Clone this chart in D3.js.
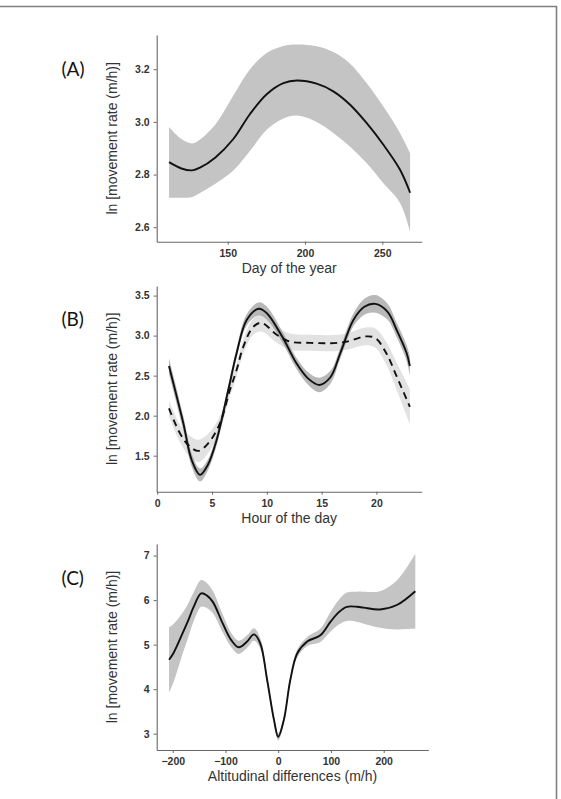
<!DOCTYPE html>
<html>
<head>
<meta charset="utf-8">
<script src="https://cdn.jsdelivr.net/npm/d3@7"></script>
<style>
  html, body { margin: 0; padding: 0; background: #fff; }
  svg { display: block; }
</style>
</head>
<body>
<svg id="chart" width="561" height="799"></svg>
<script>
// ---------- Panel A: day of the year ----------
const dayA   = [112, 120, 127, 132, 142, 153.6, 164.4, 175.2, 186, 194.7, 207.5, 218.3, 229, 239.8, 250.6, 261.4, 268];
const meanA  = [2.847, 2.823, 2.816, 2.826, 2.865, 2.935, 3.03, 3.105, 3.147, 3.157, 3.145, 3.116, 3.066, 2.996, 2.914, 2.819, 2.731];
const upperA = [2.981, 2.935, 2.918, 2.933, 2.99, 3.1, 3.2, 3.262, 3.288, 3.294, 3.287, 3.265, 3.222, 3.148, 3.059, 2.958, 2.882];
const lowerA = [2.712, 2.712, 2.715, 2.73, 2.765, 2.815, 2.89, 2.97, 3.013, 3.024, 3.0, 2.958, 2.907, 2.844, 2.768, 2.693, 2.583];
const xTicksA = [150, 200, 250];
const yTicksA = [2.6, 2.8, 3.0, 3.2];

// ---------- Panel B: hour of the day ----------
const hourSolidB = [1.07, 2.38, 3.14, 3.9, 4.6, 5.42, 6.48, 7.24, 8.16, 9.25, 10, 11.4, 12.7, 13.8, 14.78, 15.8, 16.7, 17.9, 18.9, 19.9, 21, 21.85, 22.76, 23.05];
const meanSolidB = [2.62, 1.905, 1.446, 1.26, 1.38, 1.696, 2.32, 2.78, 3.196, 3.335, 3.28, 2.988, 2.655, 2.46, 2.384, 2.48, 2.78, 3.196, 3.36, 3.396, 3.3, 3.07, 2.78, 2.62];
const seSolidB   = [0.1, 0.09, 0.08, 0.08, 0.07, 0.07, 0.06, 0.06, 0.07, 0.08, 0.08, 0.07, 0.07, 0.08, 0.09, 0.08, 0.07, 0.08, 0.1, 0.11, 0.1, 0.09, 0.1, 0.12];
const hourDashB  = [1.07, 2.07, 2.83, 3.74, 4.65, 5.72, 6.63, 7.24, 7.85, 8.76, 9.52, 10.9, 12.1, 14, 15.8, 17.3, 19.0, 19.9, 20.9, 21.85, 23.05];
const meanDashB  = [2.09, 1.78, 1.634, 1.56, 1.655, 1.905, 2.32, 2.57, 2.86, 3.11, 3.16, 3.01, 2.925, 2.91, 2.905, 2.925, 2.99, 2.97, 2.78, 2.49, 2.11];
const seDashB    = [0.1, 0.11, 0.13, 0.14, 0.12, 0.09, 0.08, 0.08, 0.09, 0.1, 0.11, 0.1, 0.1, 0.1, 0.1, 0.1, 0.11, 0.12, 0.14, 0.17, 0.22];
const xTicksB = [0, 5, 10, 15, 20];
const yTicksB = [1.5, 2.0, 2.5, 3.0, 3.5];

// ---------- Panel C: altitudinal differences ----------
const altC  = [-207, -199, -180, -170, -161, -146, -135, -124, -105, -89, -75, -59, -46, -34, -21, -8, 0, 10.7, 23, 36, 55, 80, 99, 115, 130, 150, 162, 193, 225, 260];
const meanC = [4.66, 4.8, 5.29, 5.56, 5.83, 6.15, 6.1, 5.96, 5.47, 5.1, 4.94, 5.07, 5.23, 5.03, 4.21, 3.31, 2.93, 3.31, 4.21, 4.8, 5.07, 5.21, 5.51, 5.73, 5.85, 5.85, 5.83, 5.79, 5.89, 6.2];
const seC   = [0.73, 0.66, 0.45, 0.38, 0.33, 0.3, 0.28, 0.25, 0.2, 0.16, 0.15, 0.14, 0.14, 0.12, 0.1, 0.08, 0.08, 0.08, 0.08, 0.09, 0.1, 0.15, 0.22, 0.28, 0.32, 0.34, 0.36, 0.41, 0.55, 0.84];
const xTicksC = [-200, -100, 0, 100, 200];
const yTicksC = [3, 4, 5, 6, 7];

const panelLabels = ["(A)", "(B)", "(C)"];
const xTitles = ["Day of the year", "Hour of the day", "Altitudinal differences (m/h)"];
const yTitle = "ln [movement rate (m/h)]";

const svg = d3.select("#chart");
svg.append("rect").attr("width", 561).attr("height", 799).attr("fill", "#fff");

// frame
svg.append("line").attr("x1", 0).attr("x2", 557).attr("y1", 6.5).attr("y2", 6.5)
  .attr("stroke", "#808080").attr("stroke-width", 1.6);
svg.append("line").attr("x1", 556.5).attr("x2", 556.5).attr("y1", 6).attr("y2", 799)
  .attr("stroke", "#808080").attr("stroke-width", 1.6);

const curve = d3.curveCatmullRom.alpha(0.5);

function drawAxes(x, y, xt, yt, xfmt, yfmt, label, xTitle, labelY) {
  const g = svg.append("g");
  const ax = g.append("g").attr("transform", `translate(0,${y.range()[0]})`)
    .call(d3.axisBottom(x).tickValues(xt).tickFormat(xfmt).tickSize(3).tickSizeOuter(0).tickPadding(5));
  const ay = g.append("g").attr("transform", `translate(${x.range()[0]},0)`)
    .call(d3.axisLeft(y).tickValues(yt).tickFormat(yfmt).tickSize(3).tickSizeOuter(0).tickPadding(4));
  [ax, ay].forEach(a => {
    a.select(".domain").attr("stroke", "#666").attr("stroke-width", 1.1);
    a.selectAll(".tick line").attr("stroke", "#666");
    a.selectAll("text").attr("font-family", "Liberation Sans, Arial, sans-serif")
      .attr("font-weight", "bold").attr("font-size", 10.5).attr("fill", "#333");
  });
  const [x0, x1] = x.range();
  const [y0, y1] = y.range();
  g.append("text").attr("x", (x0 + x1) / 2).attr("y", y0 + 31)
    .attr("text-anchor", "middle").attr("font-family", "Liberation Sans, Arial, sans-serif")
    .attr("font-size", 14).attr("fill", "#333").text(xTitle);
  g.append("text").attr("transform", `translate(${x0 - 40},${(y0 + y1) / 2}) rotate(-90)`)
    .attr("text-anchor", "middle").attr("font-family", "Liberation Sans, Arial, sans-serif")
    .attr("font-size", 14).attr("fill", "#333").text(yTitle);
  g.append("text").attr("x", 61.5).attr("y", labelY)
    .attr("font-family", "Lato, Open Sans, sans-serif").attr("font-size", 19).attr("fill", "#111")
    .text(label);
}

function band(x, y, xs, lo, hi, fill, opacity) {
  const pts = xs.map((d, i) => ({ x: d, lo: lo[i], hi: hi[i] }));
  svg.append("path").datum(pts)
    .attr("d", d3.area().curve(curve).x(d => x(d.x)).y0(d => y(d.lo)).y1(d => y(d.hi)))
    .attr("fill", fill).attr("fill-opacity", opacity);
}
function line(x, y, xs, ys, dash) {
  const pts = xs.map((d, i) => ({ x: d, y: ys[i] }));
  const p = svg.append("path").datum(pts)
    .attr("d", d3.line().curve(curve).x(d => x(d.x)).y(d => y(d.y)))
    .attr("fill", "none").attr("stroke", "#111").attr("stroke-width", 1.9);
  if (dash) p.attr("stroke-dasharray", dash);
}

// Panel A
{
  const x = d3.scaleLinear().domain([104, 275.5]).range([156.7, 421.7]);
  const y = d3.scaleLinear().domain([2.545, 3.33]).range([241.7, 35]);
  band(x, y, dayA, lowerA, upperA, "#c4c4c4", 1);
  line(x, y, dayA, meanA);
  drawAxes(x, y, xTicksA, yTicksA, d3.format("d"), d3.format(".1f"), panelLabels[0], xTitles[0], 76);
}
// Panel B
{
  const x = d3.scaleLinear().domain([-0.05, 24.13]).range([156.7, 421.7]);
  const y = d3.scaleLinear().domain([1.05, 3.62]).range([491.7, 286]);
  band(x, y, hourDashB, meanDashB.map((m, i) => m - seDashB[i]), meanDashB.map((m, i) => m + seDashB[i]), "#e2e2e2", 1);
  band(x, y, hourSolidB, meanSolidB.map((m, i) => m - seSolidB[i]), meanSolidB.map((m, i) => m + seSolidB[i]), "#9a9a9a", 0.7);
  line(x, y, hourDashB, meanDashB, "7,5");
  line(x, y, hourSolidB, meanSolidB);
  drawAxes(x, y, xTicksB, yTicksB, d3.format("d"), d3.format(".1f"), panelLabels[1], xTitles[1], 326);
}
// Panel C
{
  const x = d3.scaleLinear().domain([-230.4, 284.6]).range([156.7, 428.3]);
  const y = d3.scaleLinear().domain([2.634, 7.26]).range([750, 544]);
  band(x, y, altC, meanC.map((m, i) => m - seC[i]), meanC.map((m, i) => m + seC[i]), "#c4c4c4", 1);
  line(x, y, altC, meanC);
  drawAxes(x, y, xTicksC, yTicksC, d3.format("d"), d3.format("d"), panelLabels[2], xTitles[2], 585);
}
</script>
</body>
</html>
